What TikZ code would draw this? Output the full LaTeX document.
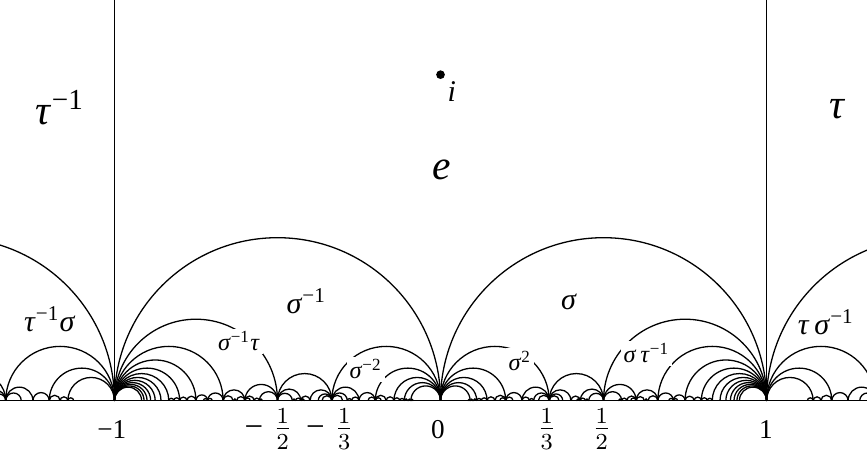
\documentclass[tikz,border=0pt]{standalone}
\usepackage{fontspec}
\setmainfont{Liberation Serif}
\usepackage{tkz-euclide}
\usetikzlibrary{calc}

% arcs of the tessellation on [0,1]: Farey edges with an odd/odd end
\def\fareymax{150}
\def\fareyden{12}
\newcount\fareyc
\def\fareyarc#1#2#3#4{%
  \ifnum\numexpr#2*#4\relax>\fareymax\relax\else
  \ifnum#2>\fareyden\relax\else
  \ifnum#4>\fareyden\relax\else
    \fareyc=0
    \ifodd#1 \ifodd#2 \fareyc=1 \fi\fi
    \ifodd#3 \ifodd#4 \fareyc=1 \fi\fi
    \ifnum\fareyc=1
      \draw[geo] ({#1/#2},0) arc[start angle=180,end angle=0,radius={(#3/#4-#1/#2)/2}];
    \fi
    \edef\fareynext{%
      \noexpand\fareyarc{#1}{#2}{\the\numexpr#1+#3\relax}{\the\numexpr#2+#4\relax}%
      \noexpand\fareyarc{\the\numexpr#1+#3\relax}{\the\numexpr#2+#4\relax}{#3}{#4}}%
    \fareynext
  \fi\fi\fi}

\begin{document}
\begin{tikzpicture}[scale=4,
  geo/.style={line width=0.45pt,color=black},
  biglab/.style={font=\fontsize{14.5}{16}\selectfont},
  midlab/.style={font=\fontsize{10.5}{12}\selectfont},
  smalllab/.style={font=\fontsize{8.5}{10}\selectfont,fill=white,inner sep=1pt},
  axislab/.style={font=\fontsize{9.5}{11}\selectfont},
  fraclab/.style={font=\fontsize{11.5}{13}\selectfont}]
\useasboundingbox (-1.351,-0.157) rectangle (1.308,1.229);

\tkzDefPoints{-1.351/0/L,1.308/0/R,-1/0/M,-1/1.229/Mt,1/0/P,1/1.229/Pt,0/1/I}

\begin{scope}
\clip (-1.351,-0.157) rectangle (1.308,1.229);
\fareyarc{0}{1}{1}{1}
\begin{scope}[xscale=-1] \fareyarc{0}{1}{1}{1} \end{scope}
% outside the strip the pattern is coarser
\def\fareyden{8}
\begin{scope}[shift={(1,0)}] \fareyarc{0}{1}{1}{1} \end{scope}
\begin{scope}[shift={(-1,0)},xscale=-1] \fareyarc{0}{1}{1}{1} \end{scope}
\end{scope}

\tkzDrawSegments[geo](L,R M,Mt P,Pt)
\tkzDrawPoints[size=2.6,color=black,fill=black](I)

\node[biglab] (tauinv) at (-1.167,.898) {\textit{τ}\textsuperscript{−1}};
\node[biglab] (tau) at (1.219,.895) {\textit{τ}};
\node[biglab] (e) at (0.005,.708) {\textit{e}};
\node[midlab] (ilab) at (.035,.947) {\textit{i}};
\node[midlab] (sinv) at (-.411,.306) {\textit{σ}\textsuperscript{−1}};
\node[midlab] (s) at (.394,.302) {\textit{σ}};
\node[midlab] (tinvs) at (-1.198,.25) {\textit{τ}\textsuperscript{−1}\textit{σ}};
\node[midlab] (tsinv) at (1.182,.241) {\textit{τ}\,\textit{σ}\textsuperscript{−1}};
\node[smalllab] (sinvt) at (-.618,.182) {\textit{σ}\textsuperscript{−1}\textit{τ}};
\node[smalllab] (stinv) at (.632,.145) {\textit{σ}\,\textit{τ}\textsuperscript{−1}};
\node[smalllab] (sinvsq) at (-.229,.096) {\textit{σ}\textsuperscript{−2}};
\node[smalllab] (ssq) at (.244,.122) {\textit{σ}\textsuperscript{2}};

\node[axislab] (xmone) at (-1.008,-.087) {−1};
\node[fraclab] (xmhalf) at (-.528,-.087) {−\hspace{3.5pt}$\frac{1}{2}$};
\node[fraclab] (xmthird) at (-.339,-.087) {−\hspace{3.5pt}$\frac{1}{3}$};
\node[axislab] (xzero) at (-.008,-.087) {0};
\node[fraclab] (xthird) at (.326,-.087) {$\frac{1}{3}$};
\node[fraclab] (xhalf) at (.494,-.087) {$\frac{1}{2}$};
\node[axislab] (xone) at (.998,-.087) {1};
\end{tikzpicture}
\end{document}
